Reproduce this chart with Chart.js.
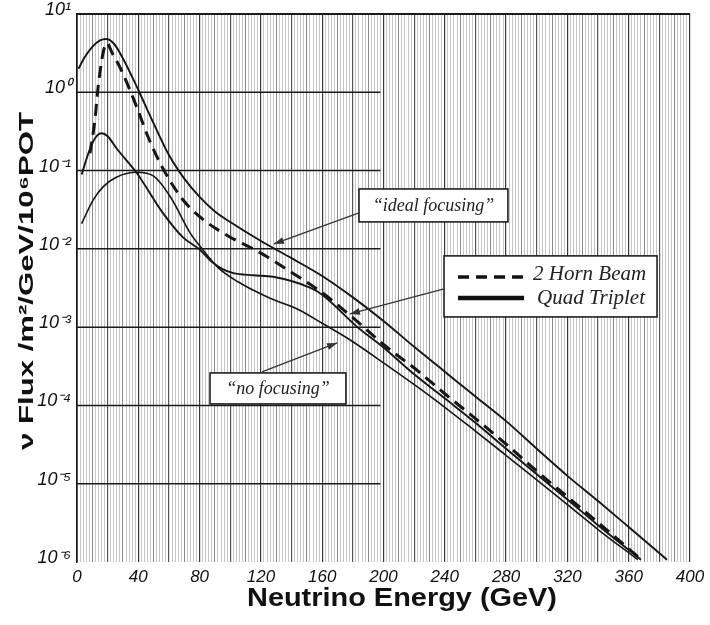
<!DOCTYPE html>
<html><head><meta charset="utf-8">
<script src="https://cdn.jsdelivr.net/npm/chart.js@4.4.1/dist/chart.umd.min.js"></script>
<style>html,body{margin:0;padding:0;background:#fff;}</style>
</head><body>
<canvas id="c" width="710" height="625"></canvas>
<script>
// ---- data (energy in GeV, flux per m2/GeV/1e6 POT) ----
const energyIdeal = [1,5,10,15,19,24,30,40,50,60,70,80,90,100,120,140,160,180,200,220,240,260,280,300,320,340,360,385];
const fluxIdeal   = [2.0,2.8,3.8,4.6,4.8,4.2,2.7,1.07,0.40,0.158,0.079,0.046,0.030,0.022,0.0126,0.0076,0.0045,0.0024,0.0012,5.6e-4,2.7e-4,1.3e-4,6.3e-5,2.8e-5,1.26e-5,6.0e-6,2.8e-6,1.07e-6];

const energyHorn = [8.5,11.7,13.8,17,19.5,23,28,33,39,47,56,69,82,100,118,140,160,180,200,222,240,260,280,300,320,340,366];
const fluxHorn   = [0.166,0.447,1.17,3.16,4.27,3.16,2.09,1.26,0.646,0.251,0.107,0.0427,0.024,0.0141,0.0093,0.0050,0.00275,0.00132,6.0e-4,2.8e-4,1.41e-4,6.8e-5,3.2e-5,1.45e-5,6.8e-6,3.2e-6,1.17e-6];

const energyQuad = [3,8.5,12,16,20,26,39,56,69,80,87,95,102,115,128,152,160,183,200,220,244,260,280,300,320,340,368];
const fluxQuad   = [0.089,0.19,0.263,0.30,0.275,0.19,0.093,0.0288,0.0141,0.0098,0.0071,0.0055,0.0049,0.0046,0.0044,0.0032,0.0026,0.0010,5.5e-4,2.5e-4,1.07e-4,6.0e-5,2.8e-5,1.32e-5,6.3e-6,2.95e-6,1.07e-6];

const energyNone = [3,10.5,17,26,39,50,61,74,82,91.5,105,126,145,160,178,200,231,260,280,300,320,340,366];
const fluxNone   = [0.021,0.042,0.062,0.083,0.095,0.085,0.046,0.0158,0.0098,0.0059,0.0038,0.00234,0.00166,0.00112,6.9e-4,3.5e-4,1.29e-4,4.7e-5,2.3e-5,1.12e-5,5.4e-6,2.6e-6,1.07e-6];

const yTickValues = [10,1,0.1,0.01,1e-3,1e-4,1e-5,1e-6];
const yTickLabels = ['10\u00B9','10\u2070','10\u207B\u00B9','10\u207B\u00B2','10\u207B\u00B3','10\u207B\u2074','10\u207B\u2075','10\u207B\u2076'];
const xLabelStep = 40;

const xTitle = 'Neutrino Energy (GeV)';
const yTitle = '\u03BD Flux /m\u00B2/GeV/10\u2076POT';
const legendLabels = ['2 Horn Beam','Quad Triplet'];
const noteIdeal = '\u201Cideal focusing\u201D';
const noteNone  = '\u201Cno focusing\u201D';

const pts = (xs, ys) => xs.map((x, i) => ({x, y: ys[i]}));

// annotation anchors in data units
const decadeLines = [1,0.1,0.01,1e-3,1e-4,1e-5];
const decadeLineEnd = 198;
const idealBox  = {x1:184, x2:281.2, y1:0.0582, y2:0.0221};
const idealArrow = {x1:184, y1:0.0288, x2:128.5, y2:0.01156};
const legendBox = {x1:239.5, x2:378.5, y1:0.00813, y2:0.00135};
const legendArrow = {x1:239.5, y1:0.003076, x2:178.1, y2:0.001476};
const noneBox = {x1:86.8, x2:175.5, y1:2.6e-4, y2:1.045e-4};
const noneArrow = {x1:120.7, y1:2.68e-4, x2:169.7, y2:6.28e-4};

function arrow(ctx, x1, y1, x2, y2) {
  ctx.beginPath(); ctx.moveTo(x1, y1); ctx.lineTo(x2, y2); ctx.stroke();
  const a = Math.atan2(y2 - y1, x2 - x1), L = 10, W = 3.5;
  ctx.beginPath();
  ctx.moveTo(x2, y2);
  ctx.lineTo(x2 - L*Math.cos(a) + W*Math.sin(a), y2 - L*Math.sin(a) - W*Math.cos(a));
  ctx.lineTo(x2 - L*Math.cos(a) - W*Math.sin(a), y2 - L*Math.sin(a) + W*Math.cos(a));
  ctx.closePath(); ctx.fill();
}
function box(ctx, sx, sy, b) {
  const l = sx.getPixelForValue(b.x1), r = sx.getPixelForValue(b.x2);
  const t = sy.getPixelForValue(b.y1), btm = sy.getPixelForValue(b.y2);
  ctx.fillStyle = '#fff'; ctx.fillRect(l, t, r - l, btm - t);
  ctx.strokeStyle = '#111'; ctx.lineWidth = 1.5; ctx.strokeRect(l, t, r - l, btm - t);
  return {l, r, t, b: btm};
}

const paper = {
  id: 'paper',
  beforeDatasetsDraw(chart) {
    const {ctx, scales: {x, y}} = chart;
    ctx.save();
    ctx.strokeStyle = '#1a1a1a'; ctx.lineWidth = 1.5;
    for (const v of decadeLines) {
      const py = y.getPixelForValue(v);
      ctx.beginPath(); ctx.moveTo(x.getPixelForValue(0), py); ctx.lineTo(x.getPixelForValue(decadeLineEnd), py); ctx.stroke();
    }
    const pt = y.getPixelForValue(10);
    ctx.lineWidth = 2;
    ctx.beginPath(); ctx.moveTo(x.getPixelForValue(0), pt); ctx.lineTo(x.getPixelForValue(400), pt); ctx.stroke();
    ctx.restore();
  },
  afterDatasetsDraw(chart) {
    const {ctx, scales: {x, y}} = chart;
    ctx.save();
    let b = box(ctx, x, y, idealBox);
    ctx.fillStyle = '#222'; ctx.font = 'italic 18px "Liberation Serif"';
    ctx.textAlign = 'center'; ctx.textBaseline = 'middle';
    ctx.fillText(noteIdeal, (b.l + b.r)/2, (b.t + b.b)/2 + 1);
    ctx.strokeStyle = '#333'; ctx.fillStyle = '#333'; ctx.lineWidth = 1.3;
    arrow(ctx, x.getPixelForValue(idealArrow.x1), y.getPixelForValue(idealArrow.y1), x.getPixelForValue(idealArrow.x2), y.getPixelForValue(idealArrow.y2));
    b = box(ctx, x, y, noneBox);
    ctx.fillStyle = '#222'; ctx.font = 'italic 18px "Liberation Serif"';
    ctx.fillText(noteNone, (b.l + b.r)/2, (b.t + b.b)/2 + 1);
    ctx.strokeStyle = '#333'; ctx.fillStyle = '#333'; ctx.lineWidth = 1.3;
    arrow(ctx, x.getPixelForValue(noneArrow.x1), y.getPixelForValue(noneArrow.y1), x.getPixelForValue(noneArrow.x2), y.getPixelForValue(noneArrow.y2));
    b = box(ctx, x, y, legendBox);
    ctx.strokeStyle = '#111';
    ctx.lineWidth = 3.5; ctx.setLineDash([11, 7]);
    ctx.beginPath(); ctx.moveTo(b.l + 14, b.t + 21); ctx.lineTo(b.l + 80, b.t + 21); ctx.stroke();
    ctx.setLineDash([]); ctx.lineWidth = 4.5;
    ctx.beginPath(); ctx.moveTo(b.l + 14, b.t + 42); ctx.lineTo(b.l + 80, b.t + 42); ctx.stroke();
    ctx.fillStyle = '#222'; ctx.font = 'italic 21px "Liberation Serif"';
    ctx.textAlign = 'left';
    ctx.fillText(legendLabels[0], b.l + 89, b.t + 19);
    ctx.fillText(legendLabels[1], b.l + 93, b.t + 43);
    ctx.strokeStyle = '#333'; ctx.fillStyle = '#333'; ctx.lineWidth = 1.3;
    arrow(ctx, x.getPixelForValue(legendArrow.x1), y.getPixelForValue(legendArrow.y1), x.getPixelForValue(legendArrow.x2), y.getPixelForValue(legendArrow.y2));
    ctx.restore();
  },
  afterDraw(chart) {
    const {ctx, chartArea} = chart;
    ctx.save();
    ctx.fillStyle = '#111';
    ctx.textAlign = 'center'; ctx.textBaseline = 'middle';
    ctx.font = 'bold 21px "Liberation Sans"';
    let w = ctx.measureText(yTitle).width;
    ctx.translate(27, (chartArea.top + chartArea.bottom)/2 - 7);
    ctx.rotate(-Math.PI/2);
    ctx.scale(338 / w, 1);
    ctx.fillText(yTitle, 0, 0);
    ctx.restore();
    ctx.save();
    ctx.fillStyle = '#111';
    ctx.textAlign = 'center'; ctx.textBaseline = 'middle';
    ctx.font = 'bold 25px "Liberation Sans"';
    w = ctx.measureText(xTitle).width;
    ctx.translate(402, 599);
    ctx.scale(310 / w, 1);
    ctx.fillText(xTitle, 0, 0);
    ctx.restore();
  }
};

const xGridColor = c => {
  const v = Math.round(c.tick.value);
  if (v === 0) return '#1a1a1a';
  if (v % 40 === 0) return '#3a3a3a';
  if (v % 20 === 0) return '#555';
  if (v % 10 === 0) return '#8a8a8a';
  return '#c6c6c6';
};
const xGridWidth = c => {
  const v = Math.round(c.tick.value);
  return v === 0 ? 1.5 : (v % 20 === 0 ? 1.2 : 1);
};

const lineBase = {pointRadius: 0, borderColor: '#161616', cubicInterpolationMode: 'monotone', fill: false};

new Chart(document.getElementById('c'), {
  type: 'line',
  data: {
    datasets: [
      {...lineBase, label: 'ideal focusing', data: pts(energyIdeal, fluxIdeal), borderWidth: 1.9},
      {...lineBase, label: legendLabels[0], data: pts(energyHorn, fluxHorn), borderWidth: 3, borderDash: [12, 7]},
      {...lineBase, label: legendLabels[1], data: pts(energyQuad, fluxQuad), borderWidth: 1.9},
      {...lineBase, label: 'no focusing', data: pts(energyNone, fluxNone), borderWidth: 1.6}
    ]
  },
  options: {
    responsive: false,
    animation: false,
    layout: {padding: {top: 14, right: 20, left: 0, bottom: 0}},
    plugins: {legend: {display: false}, tooltip: {enabled: false}},
    scales: {
      x: {
        type: 'linear', min: 0, max: 400,
        ticks: {
          stepSize: 2, autoSkip: false, maxRotation: 0, padding: 5, color: '#111',
          font: {family: 'Liberation Sans', style: 'italic', size: 17},
          callback: v => (Math.round(v) % xLabelStep === 0 ? String(Math.round(v)) : '')
        },
        grid: {drawTicks: false, color: xGridColor, lineWidth: xGridWidth},
        border: {display: false},
        afterFit(s) { s.height = 63; s.paddingLeft = 0; s.paddingRight = 0; }
      },
      y: {
        type: 'logarithmic', min: 1e-6, max: 10,
        afterBuildTicks(s) { s.ticks = yTickValues.map(v => ({value: v})); },
        ticks: {
          padding: 6, color: '#111', labelOffset: -4,
          font: {family: 'Liberation Sans', style: 'italic', size: 18},
          callback: (v, i) => yTickLabels[i]
        },
        grid: {display: false, drawTicks: false},
        border: {display: true, color: '#1a1a1a', width: 1.5},
        afterFit(s) { s.width = 77; s.paddingTop = 0; s.paddingBottom = 0; }
      }
    }
  },
  plugins: [paper]
});
</script>
</body></html>
